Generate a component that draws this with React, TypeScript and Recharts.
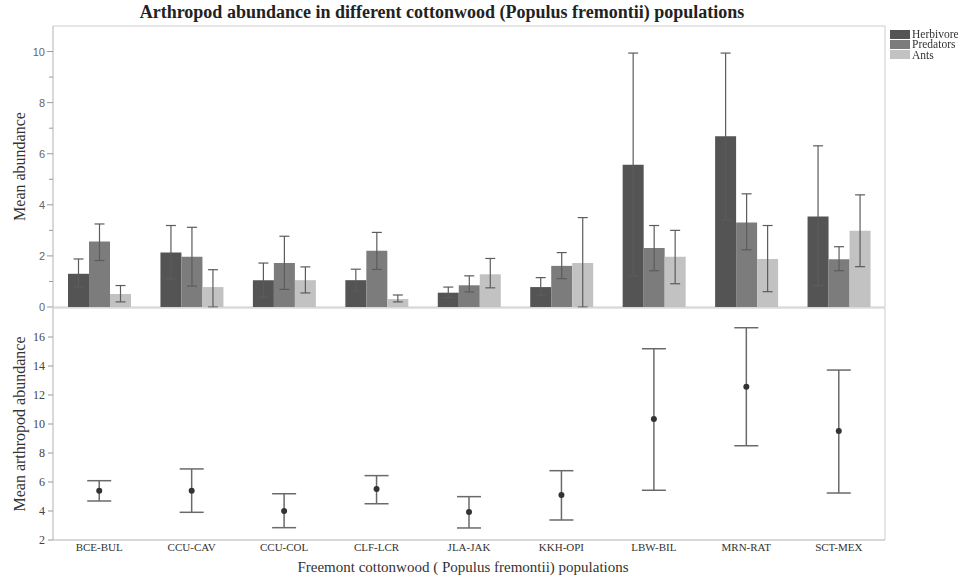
import React from 'react';
import { BarChart, Bar, ComposedChart, Line, XAxis, YAxis, ErrorBar, ReferenceArea } from 'recharts';

const categories = ['BCE-BUL', 'CCU-CAV', 'CCU-COL', 'CLF-LCR', 'JLA-JAK', 'KKH-OPI', 'LBW-BIL', 'MRN-RAT', 'SCT-MEX'];

// top panel: mean abundance per group, with lower / upper error limits
const herbivoreMean = [1.3, 2.13, 1.05, 1.05, 0.56, 0.78, 5.57, 6.68, 3.54];
const herbivoreLow = [0.78, 1.1, 0.39, 0.63, 0.37, 0.46, 1.22, 3.41, 0.84];
const herbivoreHigh = [1.88, 3.19, 1.72, 1.48, 0.78, 1.15, 9.94, 9.94, 6.31];

const predatorMean = [2.56, 1.97, 1.72, 2.2, 0.85, 1.61, 2.31, 3.31, 1.87];
const predatorLow = [1.82, 0.82, 0.69, 1.47, 0.59, 1.11, 1.42, 2.24, 1.42];
const predatorHigh = [3.25, 3.12, 2.77, 2.92, 1.22, 2.13, 3.19, 4.43, 2.36];

const antMean = [0.51, 0.78, 1.05, 0.31, 1.28, 1.72, 1.97, 1.88, 2.98];
const antLow = [0.2, 0.0, 0.55, 0.2, 0.75, 0.0, 0.91, 0.6, 1.58];
const antHigh = [0.84, 1.46, 1.57, 0.47, 1.9, 3.5, 3.0, 3.19, 4.39];

// bottom panel: mean total arthropod abundance with interval
const totalMean = [5.4, 5.4, 4.0, 5.52, 3.93, 5.1, 10.34, 12.57, 9.52];
const totalLow = [4.69, 3.91, 2.85, 4.5, 2.83, 3.38, 5.43, 8.5, 5.24];
const totalHigh = [6.09, 6.9, 5.19, 6.44, 4.99, 6.78, 15.19, 16.64, 13.72];

const topTicks = [0, 1, 2, 3, 4, 5, 6, 7, 8, 9, 10];
const bottomTicks = [2, 4, 6, 8, 10, 12, 14, 16];

const series = [
  { key: 'herb', name: 'Herbivore', color: '#545454' },
  { key: 'pred', name: 'Predators', color: '#7c7c7c' },
  { key: 'ants', name: 'Ants', color: '#c2c2c2' },
];

const topData = categories.map((name, i) => ({
  name,
  herb: herbivoreMean[i],
  herbErr: [herbivoreMean[i] - herbivoreLow[i], herbivoreHigh[i] - herbivoreMean[i]],
  pred: predatorMean[i],
  predErr: [predatorMean[i] - predatorLow[i], predatorHigh[i] - predatorMean[i]],
  ants: antMean[i],
  antsErr: [antMean[i] - antLow[i], antHigh[i] - antMean[i]],
}));

const bottomData = categories.map((name, i) => ({
  name,
  total: totalMean[i],
  totalErr: [totalMean[i] - totalLow[i], totalHigh[i] - totalMean[i]],
}));

const serif = '"Liberation Serif", "Times New Roman", serif';
const sans = '"Liberation Sans", Arial, sans-serif';
const frame = '#cccccc';

// sans labels on even values, short minor ticks on odd ones
const TopTick = (props: any) => {
  const { x, y, payload } = props;
  const major = payload.value % 2 === 0;
  return (
    <g>
      <line x1={major ? x + 2 : x + 4} x2={x + 8} y1={y} y2={y} stroke="#999" />
      {major && (
        <text x={x} y={y} dy={4} textAnchor="end" fill="#666" fontSize={11} fontFamily={sans}>
          {payload.value}
        </text>
      )}
    </g>
  );
};

const App: React.FC = () => {
  return (
    <div style={{ position: 'fixed', left: 0, top: 0, width: 958, height: 576, background: '#fff', fontFamily: serif }}>
      <div style={{ position: 'absolute', top: 2, left: 0, width: 884, textAlign: 'center', fontWeight: 'bold', fontSize: 18, color: '#222', whiteSpace: 'nowrap' }}>
        Arthropod abundance in different cottonwood (Populus fremontii) populations
      </div>

      <div style={{ position: 'absolute', left: 0, top: 0 }}>
        <BarChart width={958} height={320} data={topData} margin={{ top: 26, right: 73, bottom: 13, left: 0 }} barGap={0} barSize={21}>
          <ReferenceArea y1={0} y2={11} fill="none" stroke={frame} ifOverflow="visible" />
          <XAxis dataKey="name" hide />
          <YAxis
            width={53}
            domain={[0, 11]}
            ticks={topTicks}
            interval={0}
            tickLine={false}
            axisLine={{ stroke: frame }}
            tickSize={6}
            tickMargin={2}
            tick={<TopTick />}
            label={{ value: 'Mean abundance', angle: -90, position: 'insideLeft', offset: 19, style: { textAnchor: 'middle', fontFamily: serif, fontSize: 16, fill: '#333' } }}
          />
          {series.map((s) => (
            <Bar key={s.key} dataKey={s.key} name={s.name} fill={s.color} isAnimationActive={false}>
              <ErrorBar dataKey={s.key + 'Err'} width={5} stroke="#5c5c5c" strokeWidth={1.2} direction="y" />
            </Bar>
          ))}
        </BarChart>
      </div>

      <div style={{ position: 'absolute', left: 0, top: 300 }}>
        <ComposedChart width={958} height={276} data={bottomData} margin={{ top: 8, right: 73, bottom: 0, left: 0 }}>
          <ReferenceArea y1={2} y2={18} fill="none" stroke={frame} ifOverflow="visible" />
          <XAxis
            dataKey="name"
            scale="band"
            height={36}
            interval={0}
            tickLine={false}
            tickSize={0}
            axisLine={{ stroke: frame }}
            tickMargin={3}
            tick={{ fill: '#333', fontSize: 11, fontFamily: serif }}
            label={{ value: 'Freemont cottonwood ( Populus fremontii) populations', position: 'insideBottom', offset: 4, dx: -6, style: { fontFamily: serif, fontSize: 15, fill: '#333' } }}
          />
          <YAxis
            width={53}
            domain={[2, 18]}
            ticks={bottomTicks}
            interval={0}
            tickSize={5}
            tickMargin={3}
            tickLine={{ stroke: '#999' }}
            axisLine={{ stroke: frame }}
            tick={{ fill: '#444', fontSize: 12, fontFamily: serif }}
            label={{ value: 'Mean arthropod abundance', angle: -90, position: 'insideLeft', offset: 19, style: { textAnchor: 'middle', fontFamily: serif, fontSize: 16, fill: '#333' } }}
          />
          <Line
            dataKey="total"
            stroke="none"
            dot={{ r: 3, fill: '#333', stroke: 'none' }}
            activeDot={false}
            isAnimationActive={false}
          >
            <ErrorBar dataKey="totalErr" width={12} stroke="#6a6a6a" strokeWidth={1.5} direction="y" />
          </Line>
        </ComposedChart>
      </div>

      <div style={{ position: 'absolute', left: 890, top: 29, fontSize: 11.5, color: '#333', whiteSpace: 'nowrap' }}>
        {series.map((s) => (
          <div key={s.key} style={{ display: 'flex', alignItems: 'center', height: 10.3 }}>
            <span style={{ display: 'inline-block', width: 20, height: 9, background: s.color, marginRight: 2 }} />
            <span>{s.name}</span>
          </div>
        ))}
      </div>
    </div>
  );
};

export default App;
